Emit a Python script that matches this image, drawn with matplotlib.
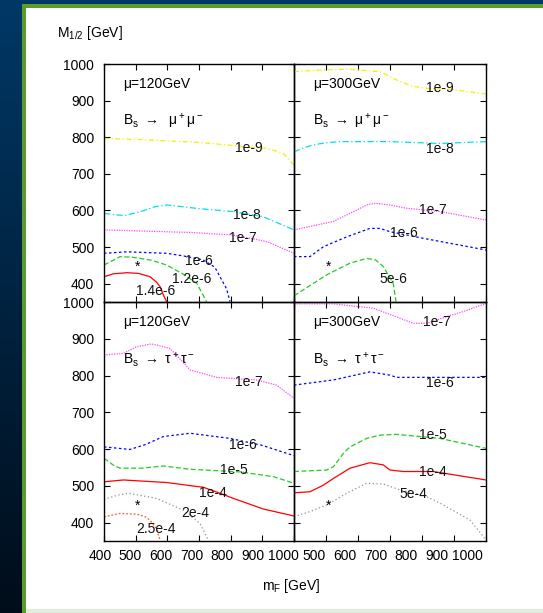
import numpy as np
import matplotlib
matplotlib.use("Agg")
import matplotlib.pyplot as plt
from matplotlib.patches import Rectangle
from matplotlib.transforms import ScaledTranslation

plt.rcParams['font.family'] = ['Liberation Sans', 'DejaVu Sans']
plt.rcParams['mathtext.default'] = 'regular'

# ---------------- data ----------------
mF_ticks = [400, 500, 600, 700, 800, 900, 1000]
M12_ticks = [400, 500, 600, 700, 800, 900, 1000]

# top-left: mu=120 GeV, Bs -> mu mu
tl_1e9_x = [400, 500, 600, 700, 800, 860, 914, 966, 1000]
tl_1e9_y = [797, 794, 790, 786, 778, 772, 770, 756, 724]
tl_1e8_x = [400, 440, 466, 520, 560, 598, 650, 700, 807, 902, 1000]
tl_1e8_y = [592, 588, 586, 598, 610, 615, 610, 605, 597, 583, 547]
tl_1e7_x = [400, 550, 672, 807, 914, 1000]
tl_1e7_y = [547, 543, 540, 533, 515, 483]
tl_1e6_x = [400, 472, 598, 650, 713, 750, 787, 798]
tl_1e6_y = [483, 487, 483, 476, 465, 445, 386, 351]
tl_12e6_x = [400, 451, 493, 550, 598, 650, 693, 724]
tl_12e6_y = [451, 474, 472, 464, 451, 426, 401, 351]
tl_14e6_x = [400, 430, 472, 510, 545, 565, 577, 589, 598]
tl_14e6_y = [419, 427, 430, 428, 419, 405, 392, 366, 351]

# top-right: mu=300 GeV, Bs -> mu mu
tr_1e9_x = [400, 470, 565, 669, 700, 731, 770, 804, 887, 1000]
tr_1e9_y = [979, 983, 986, 979, 966, 952, 940, 934, 931, 918]
tr_1e8_x = [400, 430, 460, 500, 544, 700, 856, 1000]
tr_1e8_y = [760, 771, 779, 785, 788, 788, 783, 788]
tr_1e7_x = [400, 523, 596, 627, 653, 700, 752, 856, 1000]
tr_1e7_y = [547, 570, 601, 615, 620, 615, 606, 597, 574]
tr_1e6_x = [400, 450, 492, 565, 637, 669, 700, 804, 1000]
tr_1e6_y = [474, 474, 501, 528, 551, 551, 542, 524, 492]
tr_5e6_x = [400, 450, 502, 575, 627, 655, 679, 710, 719]
tr_5e6_y = [367, 395, 424, 456, 469, 465, 447, 401, 351]

# bottom-left: mu=120 GeV, Bs -> tau tau
bl_1e7_x = [400, 461, 502, 550, 608, 640, 672, 756, 882, 945, 1000]
bl_1e7_y = [856, 860, 878, 886, 874, 845, 815, 795, 788, 774, 738]
bl_1e6_x = [400, 482, 530, 587, 672, 798, 900, 1000]
bl_1e6_y = [606, 599, 612, 634, 643, 629, 610, 582]
bl_1e5_x = [400, 430, 451, 520, 587, 672, 829, 935, 1000]
bl_1e5_y = [575, 556, 548, 548, 554, 545, 538, 525, 507]
bl_1e4_x = [400, 461, 598, 714, 760, 808, 903, 1000]
bl_1e4_y = [511, 516, 509, 496, 482, 466, 437, 418]
bl_2e4_x = [400, 440, 477, 566, 650, 703, 729]
bl_2e4_y = [463, 474, 480, 466, 434, 398, 353]
bl_25e4_x = [400, 451, 503, 530, 545, 565, 577]
bl_25e4_y = [416, 425, 423, 416, 407, 385, 353]

# bottom-right: mu=300 GeV, Bs -> tau tau
br_1e7_x = [400, 523, 648, 731, 773, 815, 877, 929, 1000]
br_1e7_y = [995, 995, 983, 956, 942, 942, 960, 974, 996]
br_1e6_x = [400, 523, 637, 700, 721, 856, 1000]
br_1e6_y = [774, 788, 810, 801, 795, 795, 795]
br_1e5_x = [400, 502, 523, 554, 575, 627, 669, 721, 856, 1000]
br_1e5_y = [539, 543, 552, 588, 606, 629, 638, 640, 629, 602]
br_1e4_x = [400, 450, 492, 523, 575, 637, 679, 700, 742, 835, 1000]
br_1e4_y = [481, 484, 502, 520, 548, 563, 557, 543, 539, 539, 516]
br_5e4_x = [400, 450, 502, 565, 627, 679, 731, 804, 856, 950, 992, 1000]
br_5e4_y = [416, 430, 448, 480, 507, 505, 489, 475, 453, 407, 362, 350]

# contour labels: (text, x, y)
tl_labels = [("1e-9", 858, 771), ("1e-8", 852, 587), ("1e-7", 840, 525),
             ("1e-6", 700, 463), ("1.2e-6", 678, 413), ("1.4e-6", 563, 381)]
tr_labels = [("1e-9", 856, 934), ("1e-8", 856, 768), ("1e-7", 835, 600),
             ("1e-6", 742, 538), ("5e-6", 710, 413)]
bl_labels = [("1e-7", 856, 783), ("1e-6", 840, 611), ("1e-5", 810, 543),
             ("1e-4", 745, 480), ("2e-4", 687, 427), ("2.5e-4", 564, 382)]
br_labels = [("1e-7", 846, 946), ("1e-6", 856, 781), ("1e-5", 835, 638),
             ("1e-4", 835, 539), ("5e-4", 773, 478)]

star_x = [506, 507, 506, 507]
star_y = [445, 445, 445, 445]

# ---------------- styles ----------------
C_YEL, C_CYA, C_MAG, C_BLU = '#f2f200', '#00e0e8', '#ff44ff', '#0000ff'
C_GRN, C_RED, C_GRY, C_ORG = '#22cc22', '#ff0000', '#909090', '#ff5a30'
LS_YEL = (0, (4, 2, 1, 2))
LS_CYA = (0, (5, 2, 1, 2))
LS_MAG = (0, (1, 1))
LS_BLU = (0, (2, 2))
LS_GRN = (0, (4, 2))
LS_RED = '-'
LS_GRY = (0, (1, 2))
LS_ORG = (0, (1.5, 1.5))

W, H = 543, 613
fig = plt.figure(figsize=(W / 100, H / 100), dpi=100)

# ---------------- background decoration ----------------
bg = fig.add_axes([0, 0, 1, 1], zorder=-10)
bg.set_xlim(0, W)
bg.set_ylim(H, 0)
bg.axis('off')
grad = np.linspace(0, 1, 256)[:, None]
top_c = np.array([0.0, 0.22, 0.40])
bot_c = np.array([0.0, 0.05, 0.10])
img = top_c[None, None, :] * (1 - grad[:, :, None]) + bot_c[None, None, :] * grad[:, :, None]
bg.imshow(img, extent=[0, W, H, 0], aspect='auto')
bg.add_patch(Rectangle((22, 4), W - 22, H - 4, color='#5b9b2c', lw=0))
bg.add_patch(Rectangle((26, 8), W - 26, H - 8, color='white', lw=0))
bg.add_patch(Rectangle((26, 609), W - 26, 4, color='#dfeed6', lw=0))

# ---------------- panels ----------------
def frac(l, t, w, h):
    return [l / W, 1 - (t + h) / H, w / W, h / H]

ax_tl = fig.add_axes(frac(104, 64, 190, 238))
ax_tr = fig.add_axes(frac(294, 64, 192, 238))
ax_bl = fig.add_axes(frac(104, 302, 190, 239))
ax_br = fig.add_axes(frac(294, 302, 192, 239))

ARROW = "$\\rightarrow$"
panels = [
    (ax_tl, [(tl_1e9_x, tl_1e9_y, C_YEL, LS_YEL), (tl_1e8_x, tl_1e8_y, C_CYA, LS_CYA),
             (tl_1e7_x, tl_1e7_y, C_MAG, LS_MAG), (tl_1e6_x, tl_1e6_y, C_BLU, LS_BLU),
             (tl_12e6_x, tl_12e6_y, C_GRN, LS_GRN), (tl_14e6_x, tl_14e6_y, C_RED, LS_RED)],
     tl_labels, "\u03bc=120GeV", "B$_s$ " + ARROW + "  \u03bc$^+$\u03bc$^-$", star_x[0], star_y[0]),
    (ax_tr, [(tr_1e9_x, tr_1e9_y, C_YEL, LS_YEL), (tr_1e8_x, tr_1e8_y, C_CYA, LS_CYA),
             (tr_1e7_x, tr_1e7_y, C_MAG, LS_MAG), (tr_1e6_x, tr_1e6_y, C_BLU, LS_BLU),
             (tr_5e6_x, tr_5e6_y, C_GRN, LS_GRN)],
     tr_labels, "\u03bc=300GeV", "B$_s$ " + ARROW + " \u03bc$^+$\u03bc$^-$", star_x[1], star_y[1]),
    (ax_bl, [(bl_1e7_x, bl_1e7_y, C_MAG, LS_MAG), (bl_1e6_x, bl_1e6_y, C_BLU, LS_BLU),
             (bl_1e5_x, bl_1e5_y, C_GRN, LS_GRN), (bl_1e4_x, bl_1e4_y, C_RED, LS_RED),
             (bl_2e4_x, bl_2e4_y, C_GRY, LS_GRY), (bl_25e4_x, bl_25e4_y, C_ORG, LS_ORG)],
     bl_labels, "\u03bc=120GeV", "B$_s$ " + ARROW + " \u03c4$^+$\u03c4$^-$", star_x[2], star_y[2]),
    (ax_br, [(br_1e7_x, br_1e7_y, C_MAG, LS_MAG), (br_1e6_x, br_1e6_y, C_BLU, LS_BLU),
             (br_1e5_x, br_1e5_y, C_GRN, LS_GRN), (br_1e4_x, br_1e4_y, C_RED, LS_RED),
             (br_5e4_x, br_5e4_y, C_GRY, LS_GRY)],
     br_labels, "\u03bc=300GeV", "B$_s$ " + ARROW + " \u03c4$^+$\u03c4$^-$", star_x[3], star_y[3]),
]

for ax, curves, labels, mu_txt, proc_txt, sx, sy in panels:
    ax.set_xlim(400, 1000)
    ax.set_ylim(350, 1000)
    for x, y, c, ls in curves:
        ax.plot(x, y, color=c, ls=ls, lw=0.9, clip_on=True)
    for t, x, y in labels:
        ax.text(x, y, t, fontsize=10, ha='center', va='center', color='#111111')
    ax.text(sx, sy, "*", fontsize=10, ha='center', va='center')
    ax.text(0.1, 0.915, mu_txt, transform=ax.transAxes, fontsize=10, ha='left', va='center')
    ax.text(0.1, 0.76, proc_txt, transform=ax.transAxes, fontsize=10, ha='left', va='center')
    ax.set_xticks(mF_ticks)
    ax.set_yticks(M12_ticks)
    ax.tick_params(direction='in', length=4.5, width=0.8, top=True, right=True,
                   labelsize=10, pad=7)
    for s in ax.spines.values():
        s.set_linewidth(1.0)
    ax.set_facecolor('none')

for ax in (ax_tl, ax_tr):
    ax.tick_params(labelbottom=False)
for ax in (ax_tr, ax_br):
    ax.tick_params(labelleft=False)

ax_bl.set_xticklabels([str(v) for v in mF_ticks])
ax_br.set_xticklabels([""] + [str(v) for v in mF_ticks[1:]])
ax_bl.tick_params(axis='x', pad=6)
ax_br.tick_params(axis='x', pad=6)

# slight leftward compression of bottom tick labels as in the reference
for ax, left_px, w_px in ((ax_bl, 104, 190), (ax_br, 294, 192)):
    for v, lab in zip(mF_ticks, ax.get_xticklabels()):
        px = left_px + (v - 400) / 600 * w_px
        dx = 100 + (px - 104) * 0.963 - px
        lab.set_transform(lab.get_transform() + ScaledTranslation(dx / 100, 0, fig.dpi_scale_trans))

fig.text(57 / W, 1 - 33 / H, "M$_{1/2}$ [GeV]", fontsize=10, ha='left', va='center')
fig.text(291 / W, 1 - 586 / H, "m$_F$ [GeV]", fontsize=10, ha='center', va='center')

fig.savefig("out.png", dpi=100)
